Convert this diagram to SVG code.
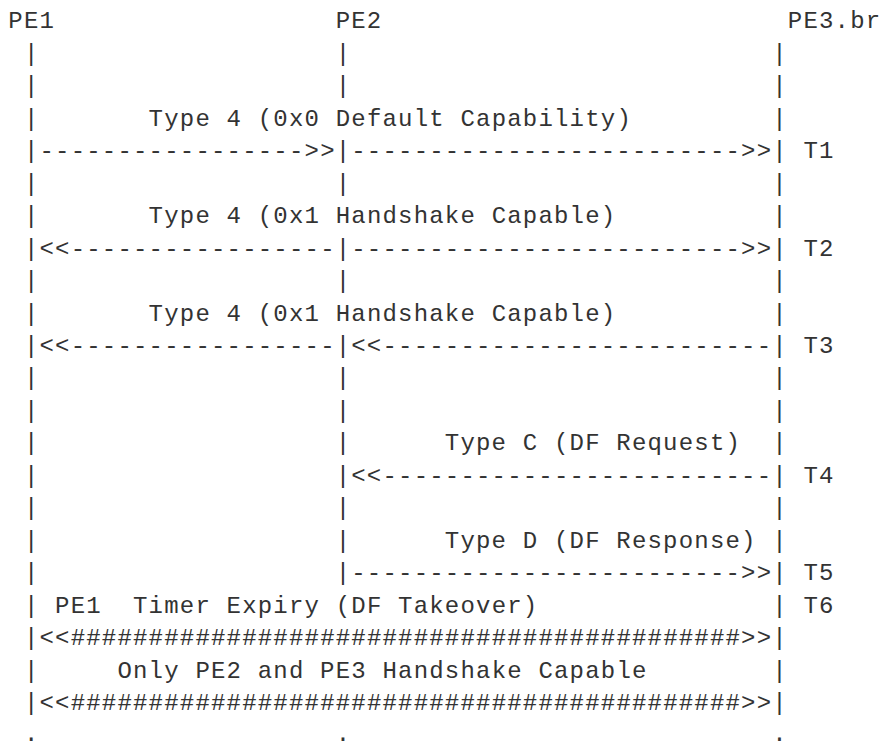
<svg xmlns="http://www.w3.org/2000/svg" width="881" height="742" viewBox="0 0 881 742">
<style>
text{font-family:"Liberation Mono","DejaVu Sans Mono",monospace;font-size:24px;letter-spacing:1.19px;fill:#333;white-space:pre}
</style>
<rect width="881" height="742" fill="#fff"/>
<g id="node-PE1">
<text x="8.3" y="28.3">PE1</text>
<text><tspan x="23.89" y="60.77">|</tspan><tspan x="23.89" y="93.24">|</tspan><tspan x="23.89" y="125.71">|</tspan><tspan x="23.89" y="158.18">|</tspan><tspan x="23.89" y="190.65">|</tspan><tspan x="23.89" y="223.12">|</tspan><tspan x="23.89" y="255.59">|</tspan><tspan x="23.89" y="288.06">|</tspan><tspan x="23.89" y="320.53">|</tspan><tspan x="23.89" y="353">|</tspan><tspan x="23.89" y="385.47">|</tspan><tspan x="23.89" y="417.94">|</tspan><tspan x="23.89" y="450.41">|</tspan><tspan x="23.89" y="482.88">|</tspan><tspan x="23.89" y="515.35">|</tspan><tspan x="23.89" y="547.82">|</tspan><tspan x="23.89" y="580.29">|</tspan><tspan x="23.89" y="612.76">|</tspan><tspan x="23.89" y="645.23">|</tspan><tspan x="23.89" y="677.7">|</tspan><tspan x="23.89" y="710.17">|</tspan><tspan x="23.89" y="741">.</tspan></text>
</g>
<g id="node-PE2">
<text x="335.69" y="28.3">PE2</text>
<text><tspan x="335.69" y="60.77">|</tspan><tspan x="335.69" y="93.24">|</tspan><tspan x="335.69" y="158.18">|</tspan><tspan x="335.69" y="190.65">|</tspan><tspan x="335.69" y="255.59">|</tspan><tspan x="335.69" y="288.06">|</tspan><tspan x="335.69" y="353">|</tspan><tspan x="335.69" y="385.47">|</tspan><tspan x="335.69" y="417.94">|</tspan><tspan x="335.69" y="450.41">|</tspan><tspan x="335.69" y="482.88">|</tspan><tspan x="335.69" y="515.35">|</tspan><tspan x="335.69" y="547.82">|</tspan><tspan x="335.69" y="580.29">|</tspan><tspan x="335.69" y="741">.</tspan></text>
</g>
<g id="node-PE3br">
<text x="787.8" y="28.3">PE3.br</text>
<text><tspan x="772.21" y="60.77">|</tspan><tspan x="772.21" y="93.24">|</tspan><tspan x="772.21" y="125.71">|</tspan><tspan x="772.21" y="158.18">|</tspan><tspan x="772.21" y="190.65">|</tspan><tspan x="772.21" y="223.12">|</tspan><tspan x="772.21" y="255.59">|</tspan><tspan x="772.21" y="288.06">|</tspan><tspan x="772.21" y="320.53">|</tspan><tspan x="772.21" y="353">|</tspan><tspan x="772.21" y="385.47">|</tspan><tspan x="772.21" y="417.94">|</tspan><tspan x="772.21" y="450.41">|</tspan><tspan x="772.21" y="482.88">|</tspan><tspan x="772.21" y="515.35">|</tspan><tspan x="772.21" y="547.82">|</tspan><tspan x="772.21" y="580.29">|</tspan><tspan x="772.21" y="612.76">|</tspan><tspan x="772.21" y="645.23">|</tspan><tspan x="772.21" y="677.7">|</tspan><tspan x="772.21" y="710.17">|</tspan><tspan x="772.21" y="741">.</tspan></text>
</g>
<g id="connectors">
<text x="39.48" y="158.18">-----------------&gt;&gt;</text>
<text x="351.28" y="158.18">-------------------------&gt;&gt;</text>
<text x="39.48" y="255.59">&lt;&lt;-----------------</text>
<text x="351.28" y="255.59">-------------------------&gt;&gt;</text>
<text x="39.48" y="353">&lt;&lt;-----------------</text>
<text x="351.28" y="353">&lt;&lt;-------------------------</text>
<text x="351.28" y="482.88">&lt;&lt;-------------------------</text>
<text x="351.28" y="580.29">-------------------------&gt;&gt;</text>
<text x="39.48" y="645.23">&lt;&lt;###########################################&gt;&gt;</text>
<text x="39.48" y="710.17">&lt;&lt;###########################################&gt;&gt;</text>
</g>
<g id="labels">
<text x="148.61" y="125.71">Type 4 (0x0 Default Capability)</text>
<text x="148.61" y="223.12">Type 4 (0x1 Handshake Capable)</text>
<text x="148.61" y="320.53">Type 4 (0x1 Handshake Capable)</text>
<text x="444.82" y="450.41">Type C (DF Request)</text>
<text x="444.82" y="547.82">Type D (DF Response)</text>
<text x="55.07" y="612.76">PE1  Timer Expiry (DF Takeover)</text>
<text x="117.43" y="677.7">Only PE2 and PE3 Handshake Capable</text>
</g>
<g id="times">
<text x="803.39" y="158.18">T1</text>
<text x="803.39" y="255.59">T2</text>
<text x="803.39" y="353">T3</text>
<text x="803.39" y="482.88">T4</text>
<text x="803.39" y="580.29">T5</text>
<text x="803.39" y="612.76">T6</text>
</g>
</svg>
